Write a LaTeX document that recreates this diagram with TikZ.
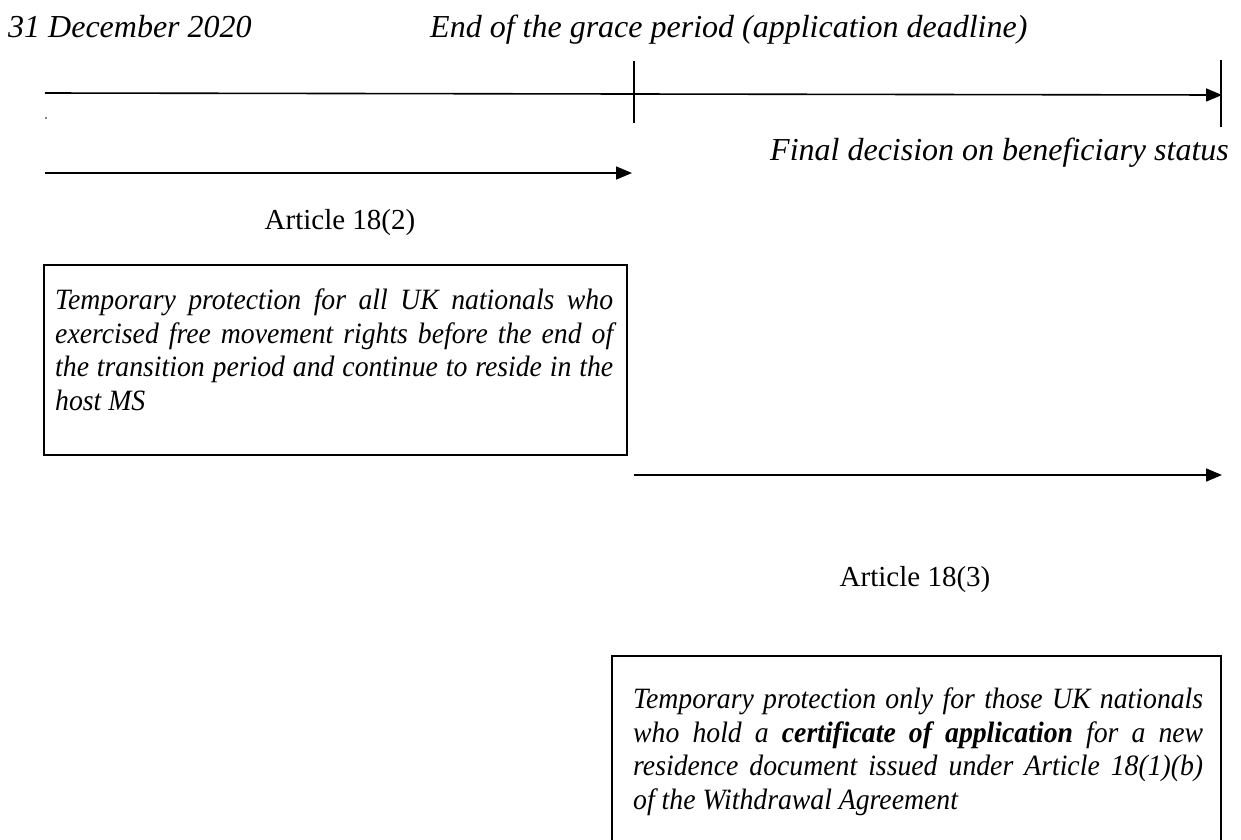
\documentclass[tikz,border=0pt]{standalone}
\usepackage{fontspec}
\setmainfont{Liberation Serif}
\newfontfamily\boxfont[FakeStretch=0.94]{Liberation Serif}
\usetikzlibrary{arrows.meta}
\begin{document}
\begin{tikzpicture}[x=1pt,y=-1pt,
  tl/.style={line width=1.6pt},
  arr/.style={line width=1.6pt,-{Triangle[length=16pt,width=13pt]}},
  lab/.style={font=\fontsize{32}{36}\selectfont\itshape, inner sep=0},
  art/.style={font=\fontsize{29}{34}\selectfont, inner sep=0},
  boxtext/.style={font=\boxfont\fontsize{29.5}{33.5}\selectfont\itshape, align=justify, inner sep=0, anchor=north west},
  frame/.style={draw, line width=1.6pt, anchor=north west, inner sep=0}
]
\useasboundingbox (0,0) rectangle (1241,839);

% labels
\node[lab, anchor=base west] (d2020) at (8,37) {31 December 2020};
\node[lab, anchor=base west] (grace) at (430,37) {End of the grace period (application deadline)};
\node[lab, anchor=base east] (final) at (1229,160) {Final decision on beneficiary status};
\node[art, anchor=base] (a182) at (340,229) {Article 18(2)};
\node[art, anchor=base] (a183) at (915,586) {Article 18(3)};

% timeline
\coordinate (ls) at (45,93);
\coordinate (le) at (1222,95);
\draw[arr] (ls) -- (le);
\coordinate (m1) at (634,61);
\coordinate (m2) at (634,123);
\draw[tl] (m1) -- (m2);
\coordinate (r1) at (1221,60);
\coordinate (r2) at (1221,127);
\draw[tl] (r1) -- (r2);
\fill (46,118) circle (0.9);

% Article 18(2) arrow
\coordinate (a2s) at (45,173);
\coordinate (a2e) at (632,173);
\draw[arr] (a2s) -- (a2e);

% Article 18(3) arrow
\coordinate (a3s) at (634,475);
\coordinate (a3e) at (1222,475);
\draw[arr] (a3s) -- (a3e);

% boxes
\node[frame, minimum width=583pt, minimum height=190pt] (box1) at (43,264) {};
\node[boxtext, text width=558pt] (t1) at (55,289) {Temporary protection for all UK nationals who\linebreak exercised free movement rights before the end of\linebreak the transition period and continue to reside in the\linebreak host MS};

\node[frame, minimum width=609pt, minimum height=210pt] (box2) at (611,655) {};
\node[boxtext, text width=570pt] (t2) at (633,688) {Temporary protection only for those UK nationals\linebreak who hold a \textbf{certificate of application} for a new\linebreak residence document issued under Article 18(1)(b)\linebreak of the Withdrawal Agreement};
\end{tikzpicture}
\end{document}
